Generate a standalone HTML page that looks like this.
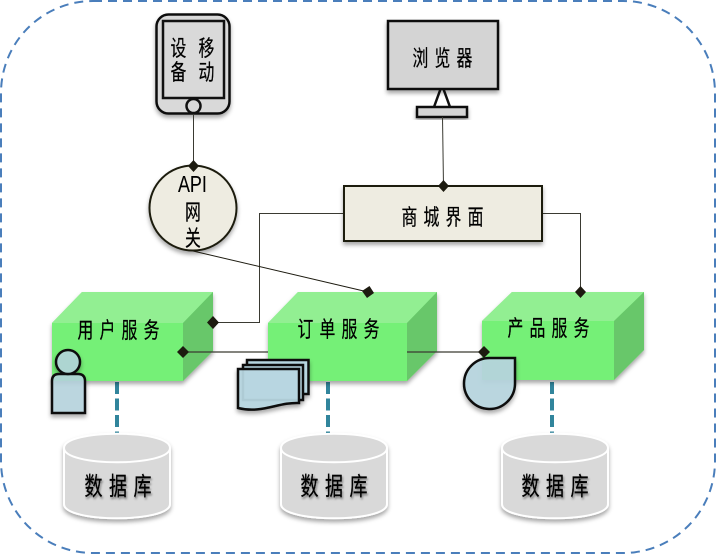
<!DOCTYPE html>
<html><head><meta charset="utf-8">
<style>
html,body{margin:0;padding:0;background:#fff;width:716px;height:555px;overflow:hidden}
svg{display:block}
text{font-family:"Liberation Sans","Noto Sans CJK SC",sans-serif;fill:#000}
</style></head>
<body>
<svg width="716" height="555" viewBox="0 0 716 555" xmlns="http://www.w3.org/2000/svg">
<defs>
<filter id="s" x="-20%" y="-20%" width="140%" height="150%"><feDropShadow dx="0" dy="3" stdDeviation="2" flood-color="#000" flood-opacity=".35"/></filter>
<filter id="t" x="-20%" y="-20%" width="140%" height="150%"><feDropShadow dx="1" dy="2" stdDeviation="1" flood-color="#000" flood-opacity=".45"/></filter>
</defs>
<rect x="1" y="1" width="714" height="552" rx="92" ry="92" fill="#fff" stroke="#4a7ebb" stroke-width="2" stroke-dasharray="9 6"/>

<!-- dashed DB links -->
<g stroke="#31859c" stroke-width="4" stroke-dasharray="12 4.5" fill="none">
<line x1="117" y1="382" x2="117" y2="434"/>
<line x1="328" y1="382" x2="328" y2="434"/>
<line x1="552" y1="382" x2="552" y2="434"/>
</g>

<!-- Tablet -->
<g filter="url(#s)">
<rect x="156.500" y="14.500" width="73" height="99" rx="12" fill="#d9d9d9" stroke="#111" stroke-width="2.500"/>
</g>
<rect x="163" y="21" width="61" height="77" fill="#d9d9d9" stroke="#111" stroke-width="2.500"/>
<circle cx="193.500" cy="106" r="7" fill="#d9d9d9" stroke="#111" stroke-width="2.500"/>

<!-- Browser -->
<path d="M442 85 L434 107 M442 85 L450 107" stroke="#111" stroke-width="2.500" fill="none"/>
<rect x="388" y="21" width="110" height="68" fill="#d4d4d4" stroke="#111" stroke-width="2.500" filter="url(#s)"/>
<rect x="417" y="107" width="50" height="10" fill="#d4d4d4" stroke="#111" stroke-width="2.500" filter="url(#s)"/>

<!-- connectors behind boxes -->
<g fill="none" stroke="#3a3a32" stroke-width="1">
<line x1="193.500" y1="114" x2="193.500" y2="166"/>
<line x1="442.500" y1="117" x2="443.500" y2="186"/>
<path d="M344 213.500 H259.500 V322.500 H213"/>
<path d="M542 213.500 H580.500 V292"/>
</g>

<!-- API circle -->
<ellipse cx="193" cy="208" rx="43.500" ry="42.500" fill="#eeece1" stroke="#1d1b10" stroke-width="2" filter="url(#s)"/>
<!-- Shop box -->
<rect x="344" y="186" width="198" height="55" fill="#eeece1" stroke="#1d1b10" stroke-width="2" filter="url(#s)"/>

<!-- User service -->
<g filter="url(#s)">
<path d="M52 323 L82 292 H213 V351 L183 381 H52Z" fill="#75f077"/>
<path d="M52 323 L82 292 H213 L183 323Z" fill="#92ef92"/>
<path d="M183 323 L213 292 V351 L183 381Z" fill="#68c76a"/>
</g>
<!-- Order service -->
<g filter="url(#s)">
<path d="M268 323 L298 292 H437 V351 L407 381 H268Z" fill="#75f077"/>
<path d="M268 323 L298 292 H437 L407 323Z" fill="#92ef92"/>
<path d="M407 323 L437 292 V351 L407 381Z" fill="#68c76a"/>
</g>
<!-- Product service -->
<g filter="url(#s)">
<path d="M482 321 L512 292 H644 V350 L614 380 H482Z" fill="#75f077"/>
<path d="M482 321 L512 292 H644 L614 321Z" fill="#92ef92"/>
<path d="M614 321 L644 292 V350 L614 380Z" fill="#68c76a"/>
</g>

<!-- horizontal connector -->
<line x1="183" y1="352" x2="268" y2="352" stroke="#3a3a32" stroke-width="1.200"/>
<line x1="407" y1="352" x2="484" y2="352" stroke="#3a3a32" stroke-width="1.200"/>
<line x1="193" y1="251" x2="368" y2="292" stroke="#1d1b10" stroke-width="1"/>

<!-- Diamonds -->
<g fill="#1d1b10">
<path d="M193.500 160 L199 166 L193.500 172 L188 166Z"/>
<path d="M443.500 180 L449 186 L443.500 192 L438 186Z"/>
<path d="M213 316 L219 322.500 L213 329 L207 322.500Z"/>
<path d="M183 346 L189 352 L183 358 L177 352Z"/>
<path d="M580.500 286 L586 292 L580.500 298 L575 292Z"/>
<path d="M484 346 L490 352 L484 358 L478 352Z"/>
<path d="M369.500 286 L374 293 L367 298 L362 291Z"/>
</g>

<!-- Person -->
<g filter="url(#s)" fill="#b7d6e0" fill-opacity=".85" stroke="#111" stroke-width="2.500">
<path d="M52 413 V381 Q52 374 59 374 H78 Q85 374 85 381 V413Z"/>
<circle cx="68" cy="362" r="12"/>
</g>

<!-- Documents -->
<g filter="url(#s)" stroke="#111" stroke-width="2.500" stroke-linejoin="miter">
<path d="M247 360 H308.500 V394 H247Z" fill="#b7d6e0"/>
<path d="M243 365 H303 V400 H243Z" fill="#b7d6e0"/>
<path d="M238 369 H299 V403 C278 402 262 414 238 408Z" fill="#b7d6e0" fill-opacity=".95"/>
</g>

<!-- Drop -->
<path d="M490 358 H515 V384 A25.500 25.500 0 1 1 490 358Z" fill="#b7d6e0" fill-opacity=".92" stroke="#111" stroke-width="2.500" filter="url(#s)"/>

<!-- Databases -->
<g fill="#d9d9d9" stroke="#fff" stroke-width="2">
<g filter="url(#s)"><path d="M64 448 C64 429 170 429 170 448 V504 C170 523 64 523 64 504Z"/><path d="M64 448 C64 467 170 467 170 448" fill="none"/></g>
<g filter="url(#s)"><path d="M281 448 C281 429 387 429 387 448 V504 C387 523 281 523 281 504Z"/><path d="M281 448 C281 467 387 467 387 448" fill="none"/></g>
<g filter="url(#s)"><path d="M502 448 C502 429 608 429 608 448 V504 C608 523 502 523 502 504Z"/><path d="M502 448 C502 467 608 467 608 448" fill="none"/></g>
</g>

<!-- Labels -->
<g font-size="22" stroke="#000" stroke-width=".25">
<text transform="translate(170.500,56) scale(.72,1)">设</text>
<text transform="translate(170.500,80) scale(.72,1)">备</text>
<text transform="translate(198.500,56) scale(.72,1)">移</text>
<text transform="translate(198.500,80) scale(.72,1)">动</text>
<text transform="translate(412.500,66) scale(.72,1)" x="0 30.600 61.200">浏览器</text>
<text transform="translate(401.500,225) scale(.72,1)" x="0 30.600 61.200 91.800">商城界面</text>
<text transform="translate(77.500,338) scale(.72,1)" x="0 30.600 61.200 91.800">用户服务</text>
<text transform="translate(297.500,337) scale(.72,1)" x="0 30.600 61.200 91.800">订单服务</text>
<text transform="translate(507.500,336) scale(.72,1)" x="0 30.600 61.200 91.800">产品服务</text>
<text transform="translate(185,220) scale(.72,1)">网</text>
<text transform="translate(185,246) scale(.72,1)">关</text>
<text transform="translate(178,192) scale(.78,1)" font-size="23" textLength="37" stroke-width=".1">API</text>
</g>
<g font-size="25" stroke="#000" stroke-width=".3" filter="url(#t)">
<text transform="translate(84.500,495) scale(.72,1)" x="0 34 68">数据库</text>
<text transform="translate(300.500,495) scale(.72,1)" x="0 34 68">数据库</text>
<text transform="translate(521.500,495) scale(.72,1)" x="0 34 68">数据库</text>
</g>
</svg>
</body></html>
